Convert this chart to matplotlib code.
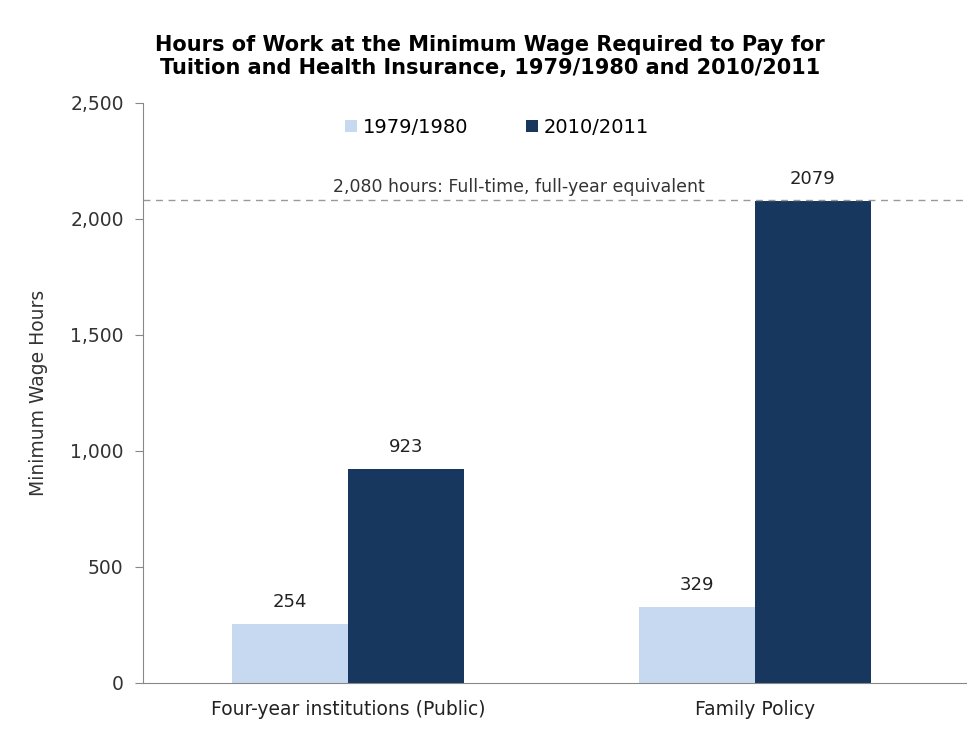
import matplotlib.pyplot as plt
import numpy as np

categories = ["Four-year institutions (Public)", "Family Policy"]
hours_1979 = [254, 329]
hours_2010 = [923, 2079]
series_names = ["1979/1980", "2010/2011"]
full_time_hours = 2080

light = "#c6d9f0"
dark = "#17375e"

fig = plt.figure(figsize=(9.8, 7.55), dpi=100)
ax = fig.add_axes([0.146, 0.0954, 0.84, 0.7682])

x = np.arange(len(categories))
w = 0.285
b1 = ax.bar(x - w / 2, hours_1979, w, color=light, label=series_names[0])
b2 = ax.bar(x + w / 2, hours_2010, w, color=dark, label=series_names[1])

for bars, vals in [(b1, hours_1979), (b2, hours_2010)]:
    for r, v in zip(bars, vals):
        ax.text(r.get_x() + r.get_width() / 2, v + 55, str(v),
                ha="center", va="bottom", fontsize=13, color="#222222")

ax.axhline(full_time_hours, color="#999999", linestyle=(0, (5, 4)), linewidth=1)
ax.text(0.42, full_time_hours + 20, "2,080 hours: Full-time, full-year equivalent",
        ha="center", va="bottom", fontsize=12.5, color="#333333")

ax.set_ylim(0, 2500)
ax.set_xlim(-0.504, 1.52)
ax.set_yticks(range(0, 2501, 500))
ax.set_yticklabels([f"{t:,}" for t in range(0, 2501, 500)])
ax.set_xticks(x)
ax.set_xticklabels(categories)
ax.tick_params(axis="x", length=0, labelsize=13.5, pad=12, colors="#222222")
ax.tick_params(axis="y", length=6, color="#888888", labelsize=13.5, colors="#333333", pad=8)
for s in ["top", "right"]:
    ax.spines[s].set_visible(False)
ax.spines["left"].set_color("#888888")
ax.spines["bottom"].set_color("#888888")
ax.set_ylabel("Minimum Wage Hours", fontsize=13.5, color="#333333", labelpad=16)

ax.legend(loc="upper center", bbox_to_anchor=(0.43, 1.005), ncol=2, frameon=False,
          fontsize=14, handlelength=0.6, handleheight=0.6, columnspacing=3,
          handletextpad=0.3)

fig.text(0.5, 0.925, "Hours of Work at the Minimum Wage Required to Pay for\n"
         "Tuition and Health Insurance, 1979/1980 and 2010/2011",
         ha="center", va="center", fontsize=15, fontweight="bold", linespacing=1.15)

fig.savefig("out.png", dpi=100)
